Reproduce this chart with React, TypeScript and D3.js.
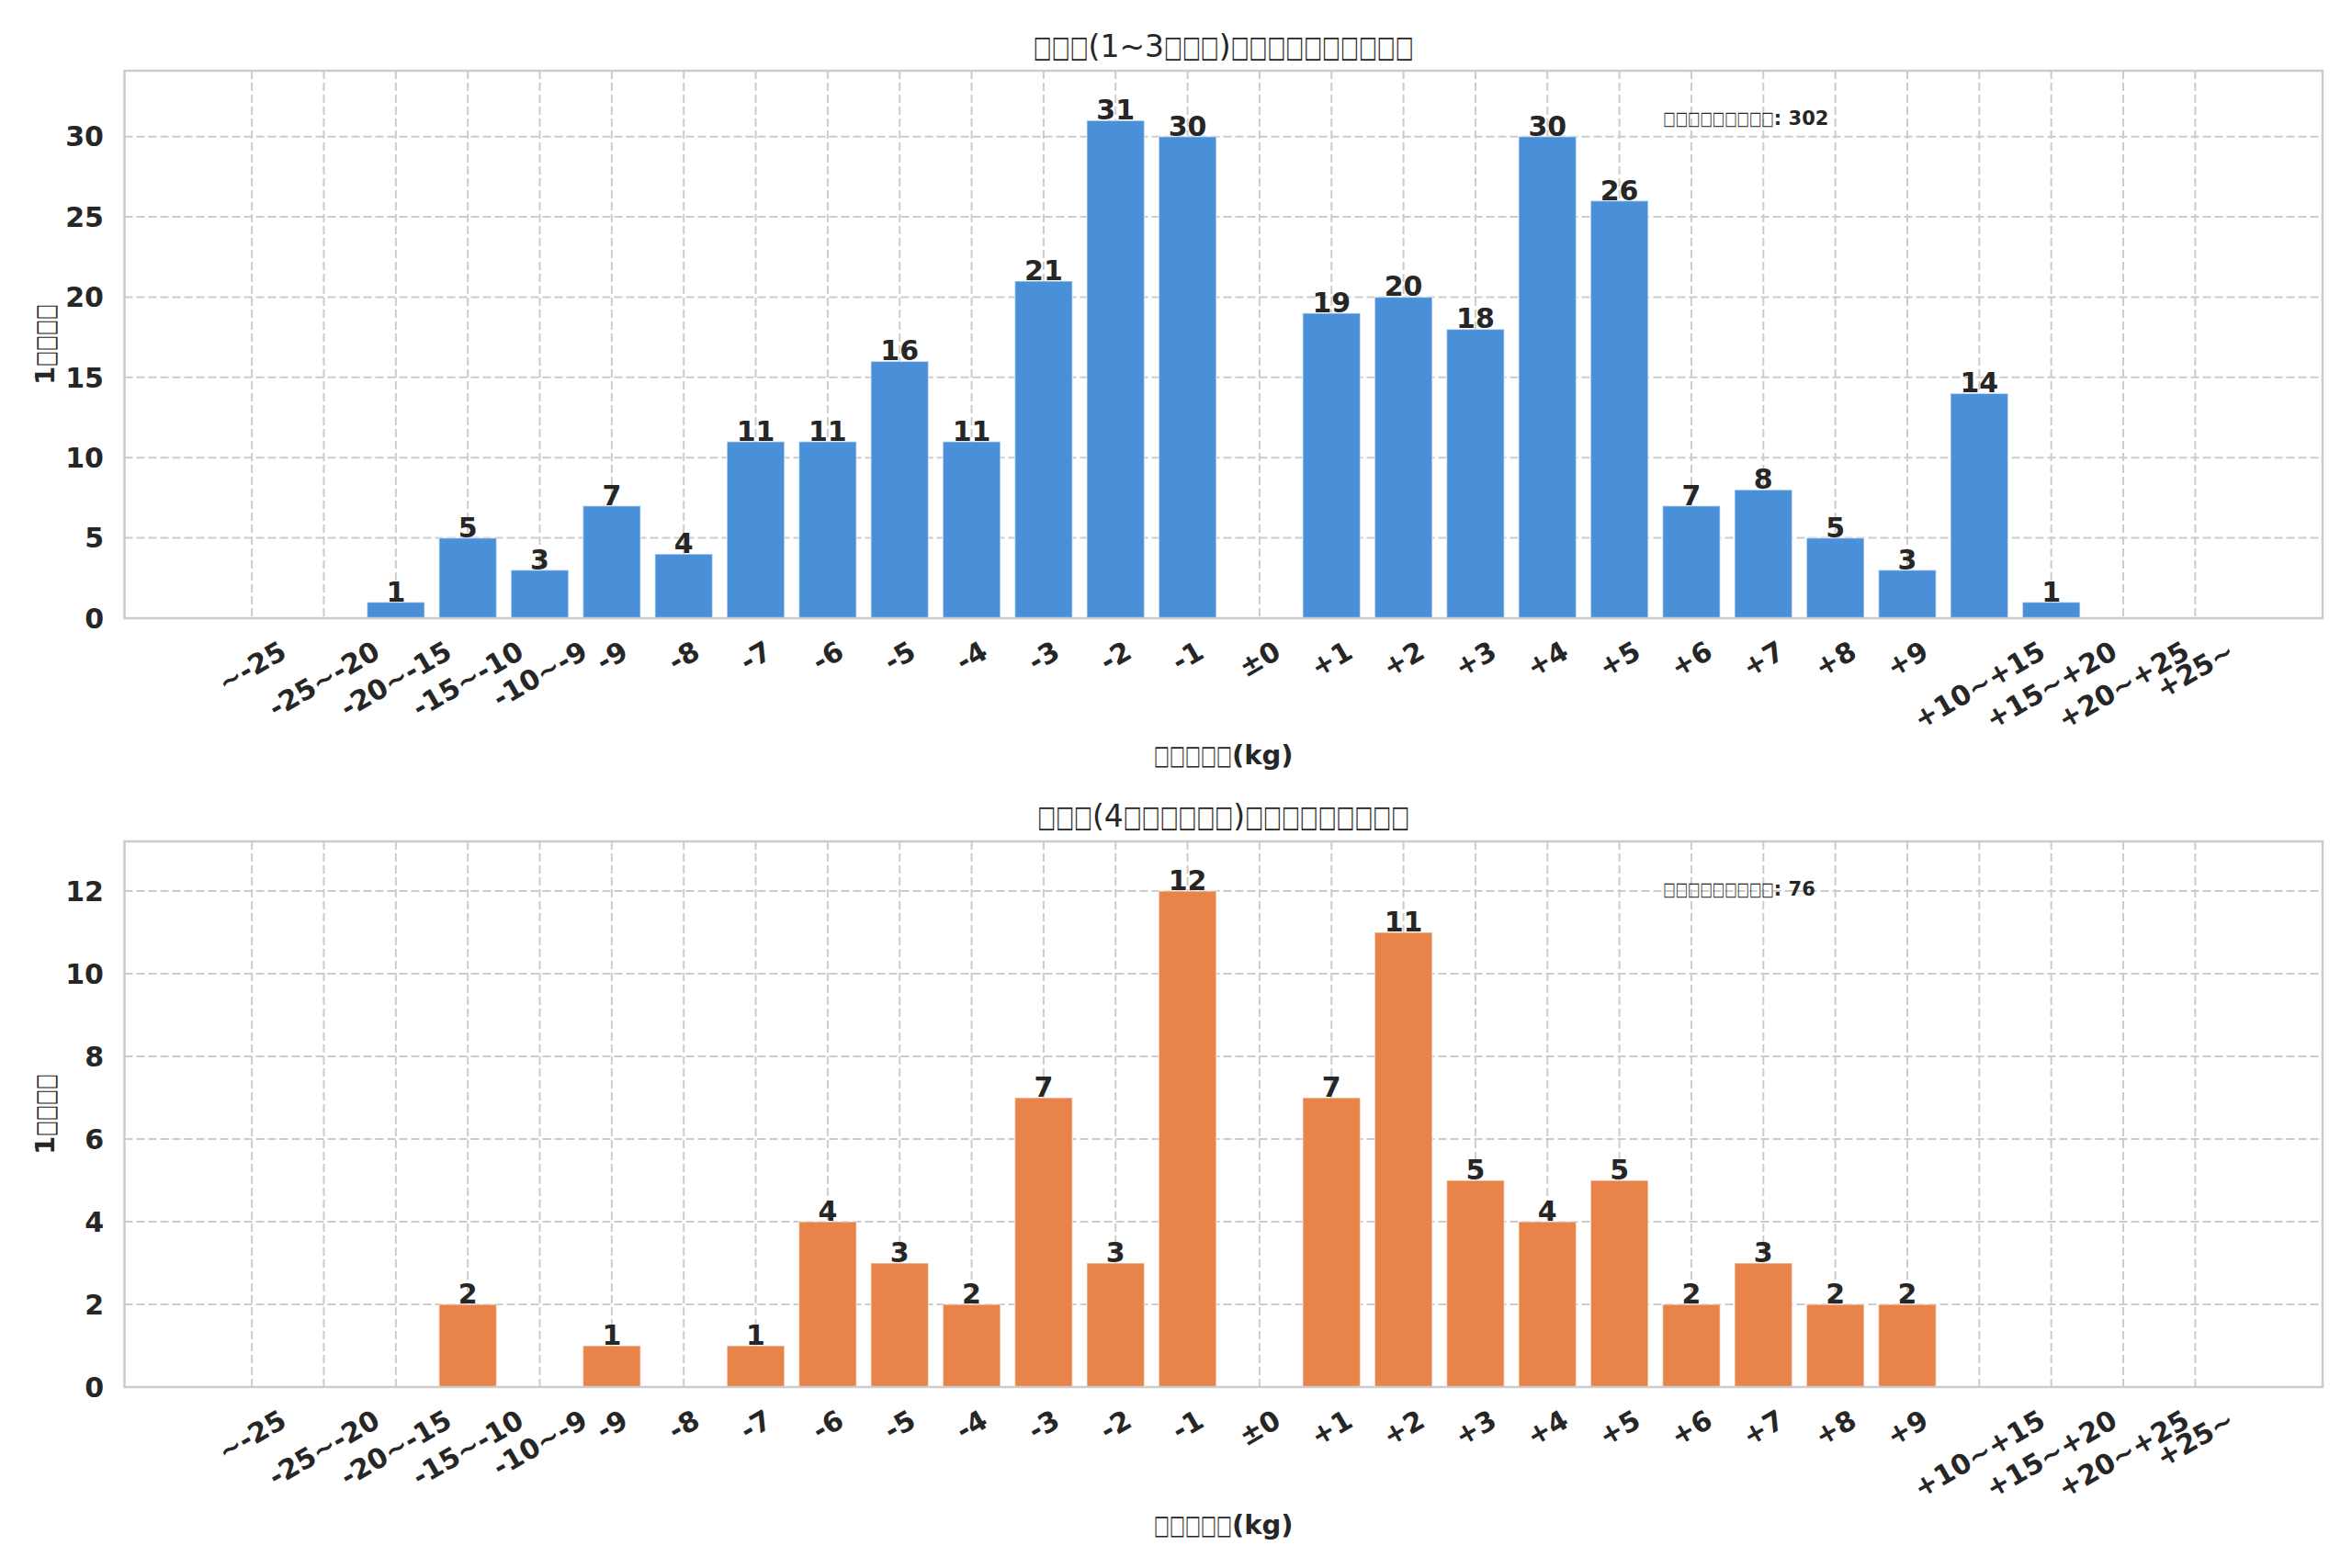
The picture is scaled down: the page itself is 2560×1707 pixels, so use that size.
import React, { useRef, useEffect } from 'react';
import * as d3 from 'd3';

const categories = [
  '~-25', '-25~-20', '-20~-15', '-15~-10', '-10~-9',
  '-9', '-8', '-7', '-6', '-5', '-4', '-3', '-2', '-1',
  '±0',
  '+1', '+2', '+3', '+4', '+5', '+6', '+7', '+8', '+9',
  '+10~+15', '+15~+20', '+20~+25', '+25~',
];

// counts per category
const shortTermCounts = [0, 0, 1, 5, 3, 7, 4, 11, 11, 16, 11, 21, 31, 30, 0, 19, 20, 18, 30, 26, 7, 8, 5, 3, 14, 1, 0, 0];
const longTermCounts = [0, 0, 0, 2, 0, 1, 0, 1, 4, 3, 2, 7, 3, 12, 0, 7, 11, 5, 4, 5, 2, 3, 2, 2, 0, 0, 0, 0];

const shortTermTicks = [0, 5, 10, 15, 20, 25, 30];
const longTermTicks = [0, 2, 4, 6, 8, 10, 12];

// glyphs are missing in the source render, so they show as boxes
const titles = ['□□□(1~3□□□)□□□□□□□□□□', '□□□(4□□□□□□)□□□□□□□□□'];
const totalLabel = '□□□□□□□□□';
const yLabel = '1□□□□';
const xLabel = '□□□□□(kg)';

const W = 2560;
const H = 1707;
const FONT = '"DejaVu Sans", sans-serif';
const INK = '#262626';
const GRID = '#cccccc';

interface Panel {
  values: number[];
  ticks: number[];
  color: string;
  title: string;
  top: number;
  bottom: number;
  titleY: number;
  xLabelY: number;
}

interface LineOpts {
  x: number;
  y: number;
  anchor: 'start' | 'middle';
  size: number;
  bold: boolean;
  boxW: number;
  rotate?: number;
}

// lay a label out piece by piece; runs of box glyphs are squeezed
// horizontally to the narrow tofu shape
function boxLine(
  parent: d3.Selection<SVGGElement, unknown, null, undefined>,
  str: string,
  o: LineOpts
) {
  const g = parent.append('g')
    .attr('transform', `translate(${o.x},${o.y}) rotate(${o.rotate || 0})`);
  const runs = str.match(/□+|[^□]+/g) || [];
  const pieces = runs.map((r) => {
    const t = g.append('text')
      .attr('font-family', FONT)
      .attr('font-size', o.size)
      .attr('font-weight', o.bold ? 'bold' : 'normal')
      .attr('fill', INK)
      .text(r);
    const nat = (t.node() as SVGTextElement).getComputedTextLength();
    const isBox = r[0] === '□';
    const w = isBox ? r.length * o.boxW : nat;
    return { t, w, sx: isBox ? w / nat : 1 };
  });
  const total = d3.sum(pieces, (p) => p.w);
  let cur = o.anchor === 'middle' ? -total / 2 : 0;
  pieces.forEach((p) => {
    p.t.attr('transform', `translate(${cur},0) scale(${p.sx},1)`);
    cur += p.w;
  });
}

const App: React.FC = () => {
  const svgRef = useRef<SVGSVGElement | null>(null);

  useEffect(() => {
    document.body.style.margin = '0';
    const svg = d3.select(svgRef.current);
    svg.selectAll('*').remove();

    const left = 135.5;
    const right = 2528;

    const x = d3.scaleLinear().domain([-1.77, categories.length - 1 + 1.77]).range([left, right]);

    const panels: Panel[] = [
      { values: shortTermCounts, ticks: shortTermTicks, color: '#4a90d9', title: titles[0], top: 77, bottom: 673, titleY: 50, xLabelY: 822 },
      { values: longTermCounts, ticks: longTermTicks, color: '#e8834a', title: titles[1], top: 916, bottom: 1510, titleY: 888, xLabelY: 1660 },
    ];

    panels.forEach((p) => {
      const maxV = d3.max(p.values) || 1;
      const y = d3.scaleLinear().domain([0, maxV * 1.1]).range([p.bottom, p.top]);
      const g = svg.append('g');

      // grid
      g.selectAll('line.vg')
        .data(categories)
        .join('line')
        .attr('x1', (_, i) => x(i))
        .attr('x2', (_, i) => x(i))
        .attr('y1', p.top)
        .attr('y2', p.bottom)
        .attr('stroke', GRID)
        .attr('stroke-width', 2)
        .attr('stroke-dasharray', '9,4');
      g.selectAll('line.hg')
        .data(p.ticks)
        .join('line')
        .attr('x1', left)
        .attr('x2', right)
        .attr('y1', (d) => y(d))
        .attr('y2', (d) => y(d))
        .attr('stroke', GRID)
        .attr('stroke-width', 2)
        .attr('stroke-dasharray', '9,4');

      // bars
      const bw = (x(1) - x(0)) * 0.8;
      const nonZero = p.values.map((v, i) => ({ v, i })).filter((d) => d.v > 0);
      g.selectAll('rect.bar')
        .data(nonZero)
        .join('rect')
        .attr('x', (d) => x(d.i) - bw / 2)
        .attr('width', bw)
        .attr('y', (d) => y(d.v))
        .attr('height', (d) => y(0) - y(d.v))
        .attr('fill', p.color)
        .attr('stroke', '#ffffff')
        .attr('stroke-opacity', 0.5)
        .attr('stroke-width', 1.5);

      // bar labels
      g.selectAll('text.val')
        .data(nonZero)
        .join('text')
        .attr('x', (d) => x(d.i))
        .attr('y', (d) => y(d.v) - 1)
        .attr('text-anchor', 'middle')
        .attr('font-family', FONT)
        .attr('font-size', 30)
        .attr('font-weight', 'bold')
        .attr('fill', INK)
        .text((d) => d.v);

      // frame
      g.append('rect')
        .attr('x', left)
        .attr('y', p.top)
        .attr('width', right - left)
        .attr('height', p.bottom - p.top)
        .attr('fill', 'none')
        .attr('stroke', GRID)
        .attr('stroke-width', 2.5);

      // y tick labels
      g.selectAll('text.yt')
        .data(p.ticks)
        .join('text')
        .attr('x', 113)
        .attr('y', (d) => y(d) + 0.36 * 30)
        .attr('text-anchor', 'end')
        .attr('font-family', FONT)
        .attr('font-size', 30)
        .attr('font-weight', 'bold')
        .attr('fill', INK)
        .text((d) => d);

      // x tick labels, rotated 30deg, bbox centred under tick
      const fs = 30;
      const ang = (30 * Math.PI) / 180;
      categories.forEach((c, i) => {
        const t = g.append('text')
          .attr('text-anchor', 'middle')
          .attr('font-family', FONT)
          .attr('font-size', fs)
          .attr('font-weight', 'bold')
          .attr('fill', INK)
          .attr('y', 0.346 * fs)
          .text(c);
        const w = (t.node() as SVGTextElement).getComputedTextLength();
        const h = fs * 1.164;
        const bh = w * Math.sin(ang) + h * Math.cos(ang);
        const cy = p.bottom + 18 + bh / 2;
        t.attr('transform', `translate(${x(i)},${cy}) rotate(-30)`);
      });

      // title
      boxLine(g, p.title, {
        x: (left + right) / 2, y: p.titleY + 0.36 * 33,
        anchor: 'middle', size: 33, bold: false, boxW: 19.9,
      });

      // axis labels
      boxLine(g, xLabel, {
        x: (left + right) / 2, y: p.xLabelY + 0.36 * 29,
        anchor: 'middle', size: 29, bold: true, boxW: 17,
      });
      boxLine(g, yLabel, {
        x: 49 + 0.36 * 29, y: (p.top + p.bottom) / 2,
        anchor: 'middle', size: 29, bold: true, boxW: 17, rotate: -90,
      });

      // total count note
      const total = d3.sum(p.values);
      boxLine(g, `${totalLabel}: ${total}`, {
        x: left + 0.7 * (right - left),
        y: y(0) - 0.914 * (p.bottom - p.top) + 0.36 * 21,
        anchor: 'start', size: 21, bold: true, boxW: 13.4,
      });
    });
  }, []);

  return (
    <svg
      ref={svgRef}
      width={W}
      height={H}
      viewBox={`0 0 ${W} ${H}`}
      style={{ display: 'block', background: '#ffffff' }}
    />
  );
};

export default App;
